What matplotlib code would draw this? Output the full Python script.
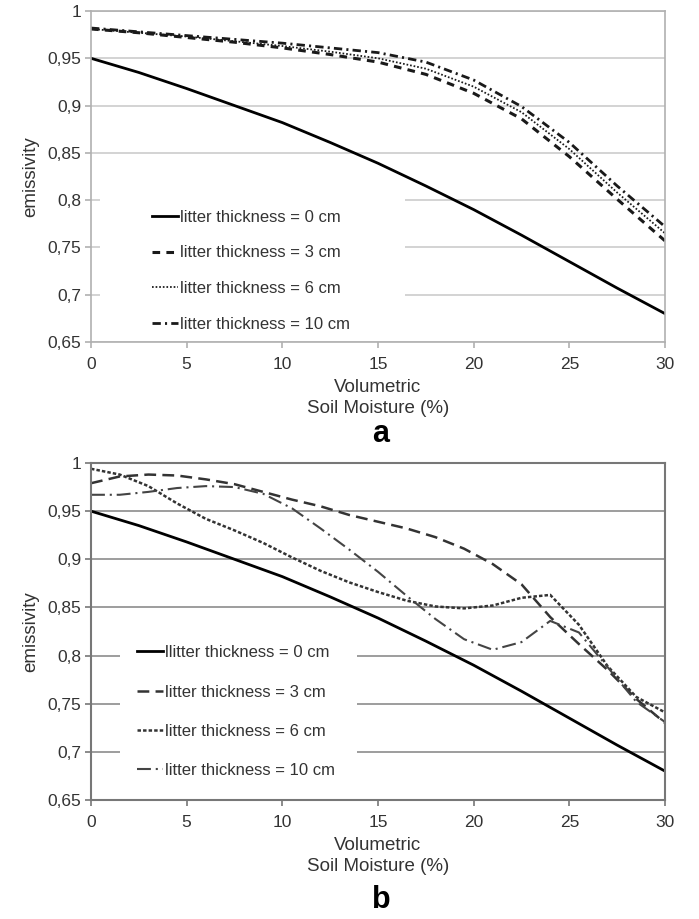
import matplotlib
matplotlib.use("Agg")
import matplotlib.pyplot as plt
from matplotlib.patches import Rectangle
from matplotlib.ticker import FuncFormatter

plt.rcParams["font.family"] = ["Liberation Sans", "DejaVu Sans"]
plt.rcParams["lines.scale_dashes"] = False

# panel a
XA = [0, 2.5, 5, 7.5, 10, 12.5, 15, 17.5, 20, 22.5, 25, 27.5, 30]
A_0CM = [0.950, 0.935, 0.918, 0.900, 0.882, 0.861, 0.839, 0.815, 0.790, 0.763, 0.735, 0.707, 0.680]
A_3CM = [0.981, 0.977, 0.972, 0.967, 0.961, 0.954, 0.946, 0.933, 0.913, 0.886, 0.846, 0.801, 0.757]
A_6CM = [0.981, 0.977, 0.973, 0.968, 0.963, 0.957, 0.950, 0.939, 0.920, 0.893, 0.854, 0.808, 0.765]
A_10CM = [0.982, 0.978, 0.974, 0.970, 0.966, 0.961, 0.956, 0.946, 0.927, 0.899, 0.861, 0.815, 0.772]

# panel b
XB = [0, 1.5, 3, 4.5, 6, 7.5, 9, 10.5, 12, 13.5, 15, 16.5, 18, 19.5, 21, 22.5, 24, 25.5, 27, 28.5, 30]
B_3CM = [0.979, 0.986, 0.988, 0.987, 0.983, 0.978, 0.970, 0.962, 0.955, 0.946, 0.939, 0.932,
         0.923, 0.911, 0.895, 0.874, 0.840, 0.812, 0.785, 0.755, 0.730]
B_6CM = [0.994, 0.988, 0.976, 0.958, 0.942, 0.930, 0.917, 0.902, 0.888, 0.876, 0.866, 0.857,
         0.851, 0.849, 0.852, 0.860, 0.863, 0.832, 0.789, 0.757, 0.741]
B_10CM = [0.967, 0.967, 0.970, 0.974, 0.976, 0.975, 0.968, 0.953, 0.932, 0.910, 0.887, 0.862,
          0.838, 0.817, 0.806, 0.814, 0.836, 0.824, 0.788, 0.752, 0.731]

LABELS_A = ["litter thickness = 0 cm", "litter thickness = 3 cm",
            "litter thickness = 6 cm", "litter thickness = 10 cm"]
LABELS_B = ["llitter thickness = 0 cm", "litter thickness = 3 cm",
            "litter thickness = 6 cm", "litter thickness = 10 cm"]

FS_TICK = 12.5
FS_LEG = 12
FS_LAB = 13.5
W, H = 699, 919

fig = plt.figure(figsize=(W / 100, H / 100), dpi=100)
ax1 = fig.add_axes([91 / W, 1 - 342 / H, 574 / W, 331 / H])
ax2 = fig.add_axes([91 / W, 1 - 800 / H, 574 / W, 337 / H])


def style_axes(ax, grid_col, spine_col, spine_lw):
    ax.set_xlim(0, 30)
    ax.set_ylim(0.65, 1.0)
    ax.set_xticks(range(0, 31, 5))
    ax.set_yticks([0.65, 0.7, 0.75, 0.8, 0.85, 0.9, 0.95, 1.0])
    ax.yaxis.set_major_formatter(FuncFormatter(lambda v, p: f"{v:.2f}".rstrip("0").rstrip(".").replace(".", ",")))
    ax.set_axisbelow(True)
    ax.grid(axis="y", color=grid_col, lw=1.2)
    for s in ax.spines.values():
        s.set_color(spine_col)
        s.set_linewidth(spine_lw)
    ax.tick_params(axis="both", colors=spine_col, labelcolor="#333333", labelsize=FS_TICK,
                   length=4.5, width=1.2)
    ax.tick_params(axis="y", pad=2.5)
    ax.tick_params(axis="x", pad=6)
    ax.set_ylabel("emissivity", fontsize=FS_LAB, color="#333333", labelpad=6)
    ax.set_xlabel("Volumetric\nSoil Moisture (%)", fontsize=FS_LAB, color="#333333", labelpad=5,
                  linespacing=1.32)


style_axes(ax1, "#cccccc", "#b0b0b0", 1.2)
style_axes(ax2, "#8c8c8c", "#777777", 1.5)

# panel a curves
ax1.plot(XA, A_0CM, color="black", lw=2.0, label=LABELS_A[0])
ax1.plot(XA, A_3CM, color="#1a1a1a", lw=2.2, dashes=(5.5, 4.5), label=LABELS_A[1])
ax1.plot(XA, A_6CM, color="#1a1a1a", lw=1.3, dashes=(1.2, 1.4), label=LABELS_A[2])
ax1.plot(XA, A_10CM, color="#1a1a1a", lw=2.0, dashes=(6, 3, 1.5, 3), label=LABELS_A[3])

# panel b curves
ax2.plot(XA, A_0CM, color="black", lw=2.0, label=LABELS_B[0])
ax2.plot(XB, B_3CM, color="#333333", lw=1.8, dashes=(8.5, 4.5), label=LABELS_B[1])
ax2.plot(XB, B_6CM, color="#333333", lw=1.8, dashes=(2.5, 1.5), label=LABELS_B[2])
ax2.plot(XB, B_10CM, color="#444444", lw=1.5, dashes=(10, 3.5, 1.5, 3.5), label=LABELS_B[3])

# white boxes behind the legends hide the gridlines
ax1.add_patch(Rectangle((0.016, 0.012), 0.531, 0.43, transform=ax1.transAxes,
                        facecolor="white", edgecolor="none", zorder=1))
ax2.add_patch(Rectangle((0.05, 0.015), 0.413, 0.505, transform=ax2.transAxes,
                        facecolor="white", edgecolor="none", zorder=1))

for ax, anchor, spacing in [(ax1, (0.106, 0.40), 1.25), (ax2, (0.080, 0.459), 1.46)]:
    leg = ax.legend(loc="upper left", bbox_to_anchor=anchor, frameon=False, fontsize=FS_LEG,
                    handlelength=1.56, handletextpad=0.1, labelspacing=spacing,
                    borderpad=0, borderaxespad=0)
    for t in leg.get_texts():
        t.set_color("#333333")

fig.text(381 / W, 1 - 434 / H, "a", ha="center", va="center", fontsize=22, fontweight="bold")
fig.text(381 / W, 1 - 900 / H, "b", ha="center", va="center", fontsize=22, fontweight="bold")

fig.savefig("out.png", dpi=100)
